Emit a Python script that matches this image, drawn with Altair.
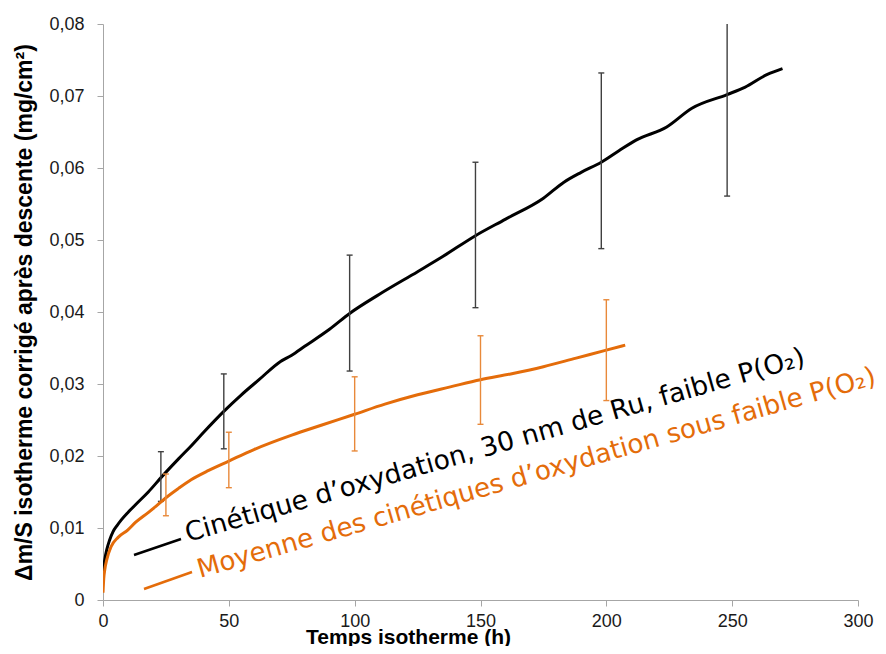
import altair as alt
import pandas as pd

# ---- data ----
black_t = [0, 0.3, 0.7, 1.5, 2.6, 4, 5.5, 7.2, 10, 13.7, 18, 23.3, 30, 35, 40, 48, 55, 62,
           70.4, 75, 80, 90, 98, 110, 125, 135, 148, 160, 175, 183, 190, 198, 205, 212,
           224, 234, 248, 255, 264, 270]
black_y = [0.0025, 0.0045, 0.0056, 0.0070, 0.0083, 0.0095, 0.0103, 0.0111, 0.0122, 0.0135,
           0.0150, 0.0171, 0.0196, 0.0214, 0.0233, 0.0262, 0.0285, 0.0306, 0.0331, 0.0340,
           0.0352, 0.0376, 0.0398, 0.0425, 0.0456, 0.0477, 0.0506, 0.0529, 0.0558, 0.0580,
           0.0594, 0.0608, 0.0624, 0.0639, 0.0657, 0.0683, 0.0702, 0.0712, 0.0730, 0.0738]

orange_t = [0, 0.3, 0.7, 1.5, 3.2, 6, 9.8, 13, 17.8, 21, 25, 30, 35, 42, 50, 60, 75, 87,
            100, 112, 125, 138, 150, 162, 175, 188, 200, 207.5]
orange_y = [0.0010, 0.0030, 0.0042, 0.0056, 0.0074, 0.0087, 0.0097, 0.0108, 0.0121, 0.0130,
            0.0142, 0.0155, 0.0167, 0.0180, 0.0193, 0.0209, 0.0229, 0.0243, 0.0258, 0.0272,
            0.0285, 0.0296, 0.0306, 0.0314, 0.0324, 0.0336, 0.0347, 0.0354]

black_err_t = [23, 48, 98, 148, 198, 248]
black_err_lo = [0.0137, 0.0210, 0.0318, 0.0406, 0.0488, 0.0561]
black_err_hi = [0.0206, 0.0314, 0.0479, 0.0608, 0.0732, 0.0843]

orange_err_t = [25, 50, 100, 150, 200]
orange_err_lo = [0.0117, 0.0156, 0.0207, 0.0244, 0.0277]
orange_err_hi = [0.0175, 0.0233, 0.0310, 0.0367, 0.0417]

x_ticks = [0, 50, 100, 150, 200, 250, 300]
y_ticks = [0, 0.01, 0.02, 0.03, 0.04, 0.05, 0.06, 0.07, 0.08]

legend_labels = ["Cinétique d’oxydation, 30 nm de Ru, faible P(O₂)",
                 "Moyenne des cinétiques d’oxydation sous faible P(O₂)"]
x_title = "Temps isotherme (h)"
y_title = "Δm/S isotherme corrigé après descente (mg/cm²)"

# ---- styles ----
BLACK = "#000000"
BLACK_ERR = "#404040"
ORANGE = "#E46C0A"
ORANGE_ERR = "#E8893A"
AXIS_GRAY = "#a6a6a6"
FONT = "Liberation Sans, Arial, sans-serif"
LEG_FONT = "DejaVu Sans, Liberation Sans, sans-serif"

x_scale = alt.Scale(domain=[0, 300], nice=False, zero=False)
y_scale = alt.Scale(domain=[0, 0.08], nice=False)

x_axis = alt.Axis(values=x_ticks, title=x_title, grid=False, domainColor=AXIS_GRAY,
                  tickColor=AXIS_GRAY, tickSize=6, labelFontSize=18, labelFont=FONT,
                  labelColor="#1a1a1a", labelBaseline="alphabetic", labelPadding=20,
                  labelFlush=False, titleFont=FONT, titleFontSize=21, titleFontWeight="bold",
                  titleColor="#000000", titleX=305, titleY=43, titleBaseline="alphabetic",
                  titleAlign="center")
y_axis = alt.Axis(values=y_ticks, title=y_title, grid=False, domainColor=AXIS_GRAY,
                  tickColor=AXIS_GRAY, tickSize=6, labelFontSize=18, labelFont=FONT,
                  labelColor="#1a1a1a", labelPadding=13, labelFlush=False,
                  labelExpr="datum.value == 0 ? '0' : replace(format(datum.value, '.2f'), '.', ',')",
                  titleFont=FONT, titleFontSize=23, titleFontWeight="bold", titleColor="#000000",
                  titleAngle=270, titleX=-79, titleY=288, titleBaseline="middle", titleAlign="center")


def X(field):
    return alt.X(field, type="quantitative", scale=x_scale, axis=x_axis)


def Y(field):
    return alt.Y(field, type="quantitative", scale=y_scale, axis=y_axis)


black_df = pd.DataFrame({"t": black_t, "y": black_y})
orange_df = pd.DataFrame({"t": orange_t, "y": orange_y})
black_err = pd.DataFrame({"t": black_err_t, "lo": black_err_lo, "hi": black_err_hi})
orange_err = pd.DataFrame({"t": orange_err_t, "lo": orange_err_lo, "hi": orange_err_hi})
one = pd.DataFrame({"k": [0]})


def err_layers(df, color):
    bar = alt.Chart(df).mark_rule(color=color, strokeWidth=1.4, clip=True).encode(
        x=X("t"), y=Y("lo"), y2=alt.Y2("hi"))
    cap_lo = alt.Chart(df).mark_rule(color=color, strokeWidth=1.4, clip=True,
                                     xOffset=-3, x2Offset=3).encode(
        x=X("t"), x2=alt.X2("t"), y=Y("lo"))
    cap_hi = alt.Chart(df).mark_rule(color=color, strokeWidth=1.4, clip=True,
                                     xOffset=-3, x2Offset=3).encode(
        x=X("t"), x2=alt.X2("t"), y=Y("hi"))
    return [bar, cap_lo, cap_hi]


black_line = alt.Chart(black_df).mark_line(color=BLACK, strokeWidth=3, clip=True,
                                           interpolate="monotone").encode(x=X("t"), y=Y("y"))
orange_line = alt.Chart(orange_df).mark_line(color=ORANGE, strokeWidth=3, clip=True,
                                             interpolate="monotone").encode(x=X("t"), y=Y("y"))

leg_black_line = alt.Chart(one).mark_rule(color=BLACK, strokeWidth=2.5).encode(
    x=alt.value(31), x2=alt.value(78), y=alt.value(531), y2=alt.value(515))
leg_orange_line = alt.Chart(one).mark_rule(color=ORANGE, strokeWidth=2.5).encode(
    x=alt.value(41), x2=alt.value(89), y=alt.value(565), y2=alt.value(548))
leg_black_text = alt.Chart(one).mark_text(
    text=legend_labels[0], angle=344, align="left", baseline="alphabetic",
    font=LEG_FONT, fontSize=26.5, color=BLACK).encode(x=alt.value(85), y=alt.value(518))
leg_orange_text = alt.Chart(one).mark_text(
    text=legend_labels[1], angle=344, align="left", baseline="alphabetic",
    font=LEG_FONT, fontSize=26.2, color=ORANGE).encode(x=alt.value(97), y=alt.value(554))

layers = [black_line] + err_layers(black_err, BLACK_ERR) + [orange_line] + \
    err_layers(orange_err, ORANGE_ERR) + \
    [leg_black_line, leg_orange_line, leg_black_text, leg_orange_text]

chart = alt.layer(*layers).properties(
    width=755, height=576,
    autosize="none",
    padding={"left": 95, "top": 16, "right": 20, "bottom": 46},
    background="white",
).configure_view(stroke=None)

chart.save("out.html", embed_options={"renderer": "svg", "actions": False})
